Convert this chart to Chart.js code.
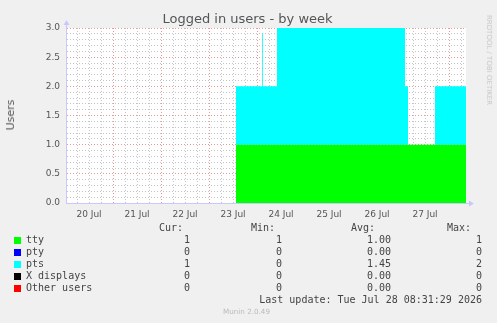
<!DOCTYPE html>
<html>
<head>
<meta charset="utf-8">
<script src="https://cdn.jsdelivr.net/npm/chart.js@4.4.1/dist/chart.umd.min.js"></script>
<style>
  body { margin: 0; background: #f0f0f0; width: 497px; height: 323px; overflow: hidden; position: relative; font-family: "DejaVu Sans", sans-serif; }
  canvas { position: absolute; left: 0; top: 0; }
  .t { position: absolute; white-space: pre; line-height: 12px; }
  .mono { font-family: "DejaVu Sans Mono", monospace; font-size: 10px; color: #444; }
  .sw { position: absolute; width: 7px; height: 7px; }
</style>
</head>
<body>
<canvas id="chartCanvas" width="497" height="323"></canvas>
<div class="t" style="left:0;width:495px;top:11px;text-align:center;font-size:13px;line-height:16px;color:#555;">Logged in users - by week</div>
<div class="t" style="left:10.5px;top:115px;font-size:11px;color:#555;transform:translate(-50%,-50%) rotate(-90deg);">Users</div>
<div class="t" style="left:488.5px;top:60px;font-size:7px;color:#c8c8c8;transform:translate(-50%,-50%) rotate(90deg);">RRDTOOL / TOBI OETIKER</div>
<div id="legend"></div>
<script>
// hours since 20 Jul 00:00
const hours = [0.5, 85.5, 98.5, 98.9, 106, 170, 171.5, 185, 200.5];
const tty = [0, 1, 1, 1, 1, 1, 1, 1, 1];
const pty = [0, 0, 0, 0, 0, 0, 0, 0, 0];
const pts = [0, 1, 1.9, 1, 2, 1, 0, 1, 1];
const xdisplays = [0, 0, 0, 0, 0, 0, 0, 0, 0];
const otherUsers = [0, 0, 0, 0, 0, 0, 0, 0, 0];

const dayLabels = ['20 Jul', '21 Jul', '22 Jul', '23 Jul', '24 Jul', '25 Jul', '26 Jul', '27 Jul'];

const legendNames = ['tty', 'pty', 'pts', 'X displays', 'Other users'];
const legendColors = ['#00ff00', '#0000ff', '#00ffff', '#000000', '#ff0000'];
const curVals = ['1', '0', '1', '0', '0'];
const minVals = ['1', '0', '0', '0', '0'];
const avgVals = ['1.00', '0.00', '1.45', '0.00', '0.00'];
const maxVals = ['1', '0', '2', '0', '0'];
const lastUpdate = 'Last update: Tue Jul 28 08:31:29 2026';
const version = 'Munin 2.0.49';

// legend table
function buildLegend() {
  const el = document.getElementById('legend');
  let html = '';
  const txt = (s, style) => '<div class="t mono" style="' + style + '">' + s + '</div>';
  html += txt('Cur:', 'left:159px;top:222px;');
  html += txt('Min:', 'left:251px;top:222px;');
  html += txt('Avg:', 'left:351px;top:222px;');
  html += txt('Max:', 'left:447px;top:222px;');
  legendNames.forEach((name, i) => {
    const y = 234 + i * 12;
    html += '<div class="sw" style="left:14px;top:' + (y + 3) + 'px;background:' + legendColors[i] + ';"></div>';
    html += txt(name, 'left:26px;top:' + y + 'px;');
    html += txt(curVals[i], 'right:' + (497 - 190) + 'px;top:' + y + 'px;');
    html += txt(minVals[i], 'right:' + (497 - 282) + 'px;top:' + y + 'px;');
    html += txt(avgVals[i], 'right:' + (497 - 391) + 'px;top:' + y + 'px;');
    html += txt(maxVals[i], 'right:' + (497 - 482) + 'px;top:' + y + 'px;');
  });
  html += txt(lastUpdate, 'right:' + (497 - 482) + 'px;top:294px;');
  html += '<div class="t" style="left:223px;top:306px;font-size:7.2px;color:#bbb;">' + version + '</div>';
  el.innerHTML = html;
}
buildLegend();

function series(label, values, color, fill) {
  return {
    label: label,
    data: hours.map((h, i) => ({ x: h, y: values[i] })),
    backgroundColor: color,
    borderColor: color,
    borderWidth: 0,
    pointRadius: 0,
    stepped: 'before',
    fill: fill,
  };
}

const plotBg = {
  id: 'plotBg',
  beforeDraw(chart) {
    const { ctx, chartArea: a } = chart;
    ctx.save();
    ctx.fillStyle = '#ffffff';
    ctx.fillRect(a.left, a.top, a.right - a.left, a.bottom - a.top);
    ctx.restore();
  },
  afterDraw(chart) {
    const { ctx, chartArea: a } = chart;
    ctx.save();
    ctx.strokeStyle = '#c8c8ff';
    ctx.fillStyle = '#c8c8ff';
    ctx.lineWidth = 1;
    // y arrow
    ctx.beginPath();
    ctx.moveTo(a.left + 0.5, a.top);
    ctx.lineTo(a.left + 0.5, a.top - 4);
    ctx.stroke();
    ctx.beginPath();
    ctx.moveTo(a.left - 2.5, a.top - 3);
    ctx.lineTo(a.left + 3.5, a.top - 3);
    ctx.lineTo(a.left + 0.5, a.top - 8);
    ctx.fill();
    // x arrow
    ctx.beginPath();
    ctx.moveTo(a.right, a.bottom + 0.5);
    ctx.lineTo(a.right + 4, a.bottom + 0.5);
    ctx.stroke();
    ctx.beginPath();
    ctx.moveTo(a.right + 3, a.bottom - 2.5);
    ctx.lineTo(a.right + 3, a.bottom + 3.5);
    ctx.lineTo(a.right + 8, a.bottom + 0.5);
    ctx.fill();
    ctx.restore();
  }
};

const isMajorY = v => Math.abs(v * 2 - Math.round(v * 2)) < 1e-6;
const minorGrid = '#c4c4c4';
const majorGrid = '#e49a9a';

const ctx = document.getElementById('chartCanvas').getContext('2d');
window.myChart = new Chart(ctx, {
  type: 'line',
  data: {
    datasets: [
      series('tty', tty, '#00ff00', 'origin'),
      series('pty', pty, '#0000ff', false),
      series('pts', pts, '#00ffff', '-1'),
      series('X displays', xdisplays, '#000000', false),
      series('Other users', otherUsers, '#ff0000', false),
    ],
  },
  options: {
    responsive: false,
    animation: false,
    devicePixelRatio: 1,
    layout: { padding: { top: 28, right: 31, left: 0, bottom: 0 } },
    plugins: {
      legend: { display: false },
      tooltip: { enabled: false },
      title: { display: false },
    },
    scales: {
      x: {
        type: 'linear',
        min: 0.5,
        max: 200.5,
        afterBuildTicks: scale => {
          const t = [];
          for (let h = 6; h < 200; h += 6) t.push({ value: h });
          scale.ticks = t;
        },
        afterFit: scale => { scale.height = 120; },
        ticks: {
          autoSkip: false,
          maxRotation: 0,
          padding: 6,
          color: '#555',
          font: { family: 'DejaVu Sans', size: 9 },
          callback: v => (v % 24 === 12 ? dayLabels[(v - 12) / 24] : ''),
        },
        grid: {
          drawTicks: false,
          color: c => (c.tick && c.tick.value % 24 === 0 ? majorGrid : minorGrid),
        },
        border: { display: true, color: '#c8c8ff', dash: [1, 2] },
      },
      y: {
        stacked: true,
        min: 0,
        max: 3,
        afterFit: scale => { scale.width = 66; },
        ticks: {
          stepSize: 0.1,
          autoSkip: false,
          padding: 6,
          color: '#555',
          font: { family: 'DejaVu Sans', size: 9 },
          callback: v => (isMajorY(v) ? Number(v).toFixed(1) : ''),
        },
        grid: {
          drawTicks: false,
          color: c => (c.tick && isMajorY(c.tick.value) ? majorGrid : minorGrid),
        },
        border: { display: true, color: '#c8c8ff', dash: [1, 2] },
      },
    },
  },
  plugins: [plotBg],
});
</script>
</body>
</html>
